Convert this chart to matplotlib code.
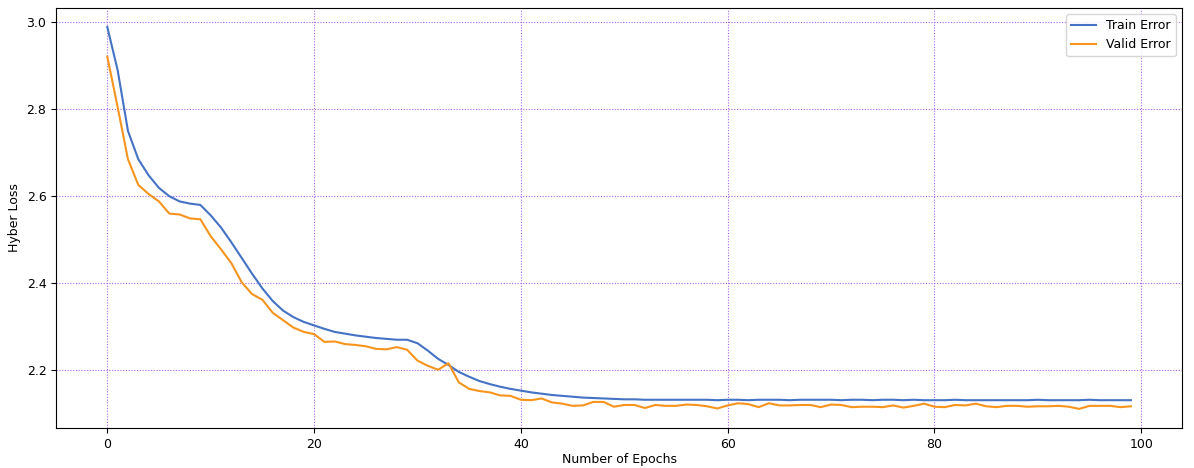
import matplotlib
matplotlib.use("Agg")
import matplotlib.pyplot as plt
import numpy as np

# loss per epoch
train_error = [
    2.989, 2.890, 2.750, 2.685, 2.648, 2.619, 2.600, 2.588, 2.583, 2.580,
    2.556, 2.528, 2.494, 2.458, 2.422, 2.388, 2.359, 2.337, 2.322, 2.311,
    2.303, 2.295, 2.288, 2.284, 2.280, 2.277, 2.274, 2.272, 2.270, 2.270,
    2.262, 2.245, 2.226, 2.212, 2.196, 2.185, 2.175, 2.168, 2.162, 2.157,
    2.153, 2.149, 2.146, 2.143, 2.141, 2.139, 2.137, 2.136, 2.135, 2.134,
    2.133, 2.133, 2.132, 2.132, 2.132, 2.132, 2.132, 2.132, 2.132, 2.131,
    2.132, 2.132, 2.131, 2.132, 2.132, 2.132, 2.131, 2.132, 2.132, 2.132,
    2.132, 2.131, 2.132, 2.132, 2.131, 2.132, 2.132, 2.131, 2.132, 2.131,
    2.131, 2.131, 2.132, 2.131, 2.131, 2.131, 2.131, 2.131, 2.131, 2.131,
    2.132, 2.131, 2.131, 2.131, 2.131, 2.132, 2.131, 2.131, 2.131, 2.131,
]
valid_error = [
    2.921, 2.805, 2.685, 2.626, 2.605, 2.588, 2.560, 2.558, 2.549, 2.547,
    2.508, 2.478, 2.446, 2.402, 2.375, 2.362, 2.332, 2.315, 2.298, 2.288,
    2.283, 2.265, 2.266, 2.260, 2.258, 2.255, 2.249, 2.248, 2.253, 2.247,
    2.222, 2.210, 2.201, 2.216, 2.172, 2.157, 2.152, 2.149, 2.142, 2.141,
    2.132, 2.131, 2.135, 2.126, 2.123, 2.118, 2.119, 2.127, 2.127, 2.116,
    2.120, 2.120, 2.113, 2.120, 2.118, 2.118, 2.121, 2.120, 2.117, 2.112,
    2.119, 2.124, 2.122, 2.115, 2.124, 2.119, 2.119, 2.120, 2.120, 2.115,
    2.121, 2.120, 2.115, 2.116, 2.116, 2.115, 2.119, 2.114, 2.118, 2.123,
    2.116, 2.115, 2.120, 2.119, 2.123, 2.117, 2.115, 2.118, 2.118, 2.116,
    2.117, 2.117, 2.118, 2.116, 2.111, 2.118, 2.118, 2.118, 2.115, 2.117,
]
epochs = np.arange(len(train_error))

fig = plt.figure(figsize=(11.94, 4.68), dpi=100)
ax = fig.add_axes([0.047, 0.0855, 0.943, 0.8975])

ax.plot(epochs, train_error, color="#4472c4", linewidth=1.5, label="Train Error")
ax.plot(epochs, valid_error, color="#f7941d", linewidth=1.5, label="Valid Error")

ax.grid(True, color="#a865f0", linestyle=(0, (1, 1.5)), linewidth=0.8)
ax.set_xlabel("Number of Epochs", fontsize=9, labelpad=2)
ax.set_ylabel("Hyber Loss", fontsize=9)
ax.tick_params(labelsize=9)
ax.legend(loc="upper right", fontsize=9)

fig.savefig("out.png", dpi=100)
